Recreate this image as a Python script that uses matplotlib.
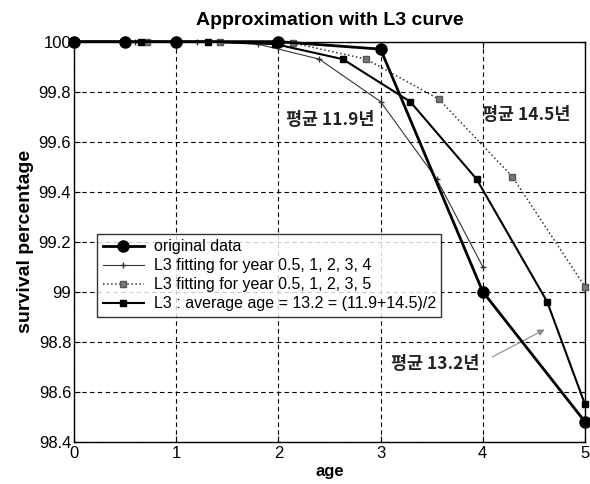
import matplotlib
matplotlib.use("Agg")
import matplotlib.pyplot as plt

plt.rcParams['font.family'] = ['Liberation Sans', 'DejaVu Sans']

# original data
orig_x = [0, 0.5, 1, 2, 3, 4, 5]
orig_y = [100, 100, 100, 100, 99.97, 99.0, 98.48]

# L3 fitting for year 0.5,1,2,3,4
fit4_x = [0, 0.6, 1.2, 1.8, 2.4, 3.0, 3.55, 4.0]
fit4_y = [100, 100, 100, 99.99, 99.93, 99.76, 99.45, 99.10]

# L3 fitting for year 0.5,1,2,3,5
fit5_x = [0, 0.71, 1.43, 2.14, 2.86, 3.57, 4.29, 5.0]
fit5_y = [100, 100, 100, 99.995, 99.93, 99.77, 99.46, 99.02]

# L3 average age
avg_x = [0, 0.66, 1.31, 1.97, 2.63, 3.29, 3.94, 4.63, 5.0]
avg_y = [100, 100, 100, 99.99, 99.93, 99.76, 99.45, 98.96, 98.55]

labels = ['original data',
          'L3 fitting for year 0.5, 1, 2, 3, 4',
          'L3 fitting for year 0.5, 1, 2, 3, 5',
          'L3 : average age = 13.2 = (11.9+14.5)/2']

xticks = [0, 1, 2, 3, 4, 5]
yticks = [98.4, 98.6, 98.8, 99, 99.2, 99.4, 99.6, 99.8, 100]
yticklabels = ['98.4', '98.6', '98.8', '99', '99.2', '99.4', '99.6', '99.8', '100']

fig = plt.figure(figsize=(5.9, 4.84), dpi=100)
ax = fig.add_axes([0.1254, 0.0874, 0.866, 0.8266])

ax.plot(orig_x, orig_y, '-', color='black', lw=2.0, marker='o', ms=8,
        label=labels[0], clip_on=False, zorder=5)
ax.plot(fit4_x, fit4_y, '-', color='#333333', lw=0.8, marker='+', ms=4,
        mew=1.0, label=labels[1], clip_on=False, zorder=4)
ax.plot(fit5_x, fit5_y, ':', color='#333333', lw=1.1, marker='s', ms=4.5,
        mfc='#777777', mec='#555555', label=labels[2], clip_on=False, zorder=4)
ax.plot(avg_x, avg_y, '-', color='black', lw=1.5, marker='s', ms=4,
        mfc='black', mec='black', label=labels[3], clip_on=False, zorder=4)

ax.set_xlim(0, 5)
ax.set_ylim(98.4, 100)
ax.set_xticks(xticks)
ax.set_yticks(yticks)
ax.set_yticklabels(yticklabels)
ax.tick_params(direction='in', labelsize=12, top=True, right=True, length=4)
ax.tick_params(axis='x', pad=3)
ax.tick_params(axis='y', pad=2)
ax.grid(True, color='black', linestyle=(0, (4, 3)), lw=0.8)
for s in ax.spines.values():
    s.set_linewidth(1.0)

ax.set_title('Approximation with L3 curve', fontsize=14, fontweight='bold', pad=12)
ax.set_xlabel('age', fontsize=12, fontweight='bold', labelpad=2)
ax.set_ylabel('survival percentage', fontsize=14, fontweight='bold', labelpad=3)

kfont = ['Noto Sans CJK KR', 'DejaVu Sans']
ax.text(2.51, 99.686, '평균 11.9년', family=kfont, fontsize=12.5, fontweight='bold',
        ha='center', va='center', color='#222222')
ax.text(4.43, 99.706, '평균 14.5년', family=kfont, fontsize=12.5, fontweight='bold',
        ha='center', va='center', color='#222222')
ax.text(3.53, 98.71, '평균 13.2년', family=kfont, fontsize=12.5, fontweight='bold',
        ha='center', va='center', color='#222222')
ax.annotate('', xy=(4.63, 98.854), xytext=(4.07, 98.734),
            arrowprops=dict(arrowstyle='-|>', color='#888888', lw=0.8,
                            mutation_scale=10))

leg = ax.legend(loc='upper left', bbox_to_anchor=(0.045, 0.52), fontsize=11.5,
                frameon=True, fancybox=False, edgecolor='black',
                borderpad=0.35, labelspacing=0.25, handlelength=2.6,
                handletextpad=0.6, borderaxespad=0)
leg.get_frame().set_linewidth(1.0)
leg.set_zorder(10)

fig.savefig('out.png', dpi=100)
